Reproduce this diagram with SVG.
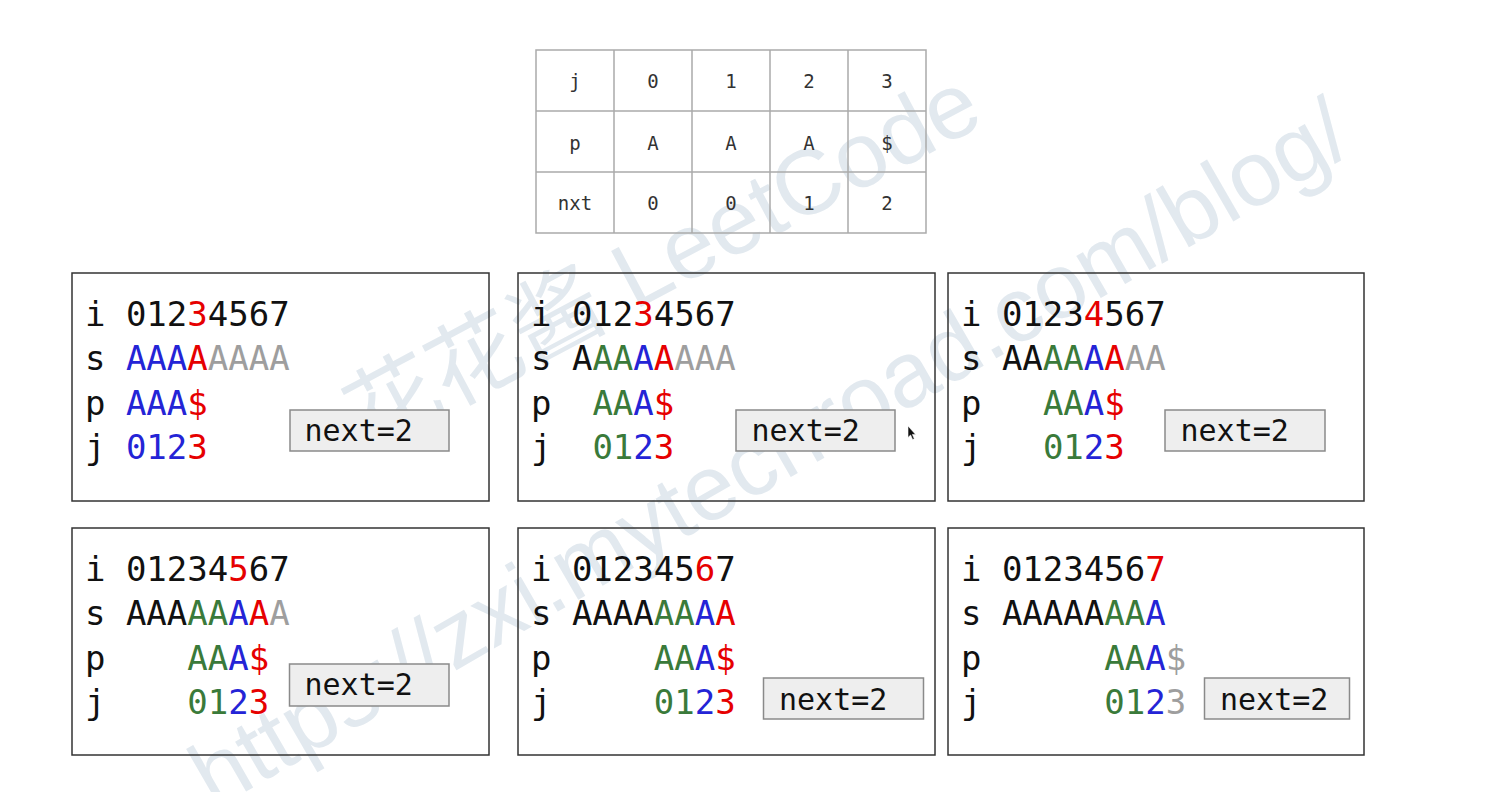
<svg xmlns="http://www.w3.org/2000/svg" width="1494" height="792" viewBox="0 0 1494 792">
<style>
.wm{font-family:"Liberation Sans","Noto Sans CJK SC",sans-serif;font-size:92px;fill:#e2e9ef}
.panel{fill:none;stroke:#333;stroke-width:1.5}
.cell{fill:none;stroke:#aaa;stroke-width:1.5}
.tt{font-family:"DejaVu Sans Mono","Liberation Mono",monospace;font-size:19px;fill:#333;text-anchor:middle}
.m{font-family:"DejaVu Sans Mono","Liberation Mono",monospace;font-size:34px;fill:#111}
.nb{fill:#eeeeee;stroke:#8a8a8a;stroke-width:1.5}
.nt{font-family:"DejaVu Sans Mono","Liberation Mono",monospace;font-size:30px;fill:#111}
.k{fill:#111}.b{fill:#2424d6}.r{fill:#e60000}.g{fill:#3a7a3a}.y{fill:#9e9e9e}
</style>
<rect width="1494" height="792" fill="#fff"/>
<g id="watermark">
<text class="wm" transform="translate(368 452) rotate(-28)">花花酱 LeetCode</text>
<text class="wm" transform="translate(214 810) rotate(-30)">https://zxi.mytechroad.com/blog/</text>
</g>
<g id="table">
<rect class="cell" x="536" y="50" width="390" height="183"/>
<path class="cell" d="M614 50V233M692 50V233M770 50V233M848 50V233M536 111H926M536 172H926"/>
<text class="tt" x="575" y="88">j</text><text class="tt" x="653" y="88">0</text><text class="tt" x="731" y="88">1</text><text class="tt" x="809" y="88">2</text><text class="tt" x="887" y="88">3</text>
<text class="tt" x="575" y="149.5">p</text><text class="tt" x="653" y="149.5">A</text><text class="tt" x="731" y="149.5">A</text><text class="tt" x="809" y="149.5">A</text><text class="tt" x="887" y="149.5">$</text>
<text class="tt" x="575" y="210">nxt</text><text class="tt" x="653" y="210">0</text><text class="tt" x="731" y="210">0</text><text class="tt" x="809" y="210">1</text><text class="tt" x="887" y="210">2</text>
</g>
<g id="panel1">
<rect class="panel" x="72" y="273" width="417" height="228"/>
<text class="m" x="85" y="326">i</text><text class="m" x="85" y="370">s</text><text class="m" x="85" y="415">p</text><text class="m" x="85" y="459">j</text>
<text class="m" x="125.9" y="326">012<tspan class="r">3</tspan>4567</text>
<text class="m" x="125.9" y="370"><tspan class="b">AAA</tspan><tspan class="r">A</tspan><tspan class="y">AAAA</tspan></text>
<text class="m" x="125.9" y="415"><tspan class="b">AAA</tspan><tspan class="r">$</tspan></text>
<text class="m" x="125.9" y="459"><tspan class="b">012</tspan><tspan class="r">3</tspan></text>
<rect class="nb" x="290" y="410" width="159" height="41"/>
<text class="nt" x="304.5" y="441">next=2</text>
</g>
<g id="panel2">
<rect class="panel" x="518" y="273" width="417" height="228"/>
<text class="m" x="531" y="326">i</text><text class="m" x="531" y="370">s</text><text class="m" x="531" y="415">p</text><text class="m" x="531" y="459">j</text>
<text class="m" x="571.9" y="326">012<tspan class="r">3</tspan>4567</text>
<text class="m" x="571.9" y="370">A<tspan class="g">AA</tspan><tspan class="b">A</tspan><tspan class="r">A</tspan><tspan class="y">AAA</tspan></text>
<text class="m" x="592.4" y="415"><tspan class="g">AA</tspan><tspan class="b">A</tspan><tspan class="r">$</tspan></text>
<text class="m" x="592.4" y="459"><tspan class="g">01</tspan><tspan class="b">2</tspan><tspan class="r">3</tspan></text>
<rect class="nb" x="736" y="410" width="159" height="41"/>
<text class="nt" x="751.5" y="441">next=2</text>
<path d="M908 426V437.5L910.6 435L912.6 439.6L914.3 438.8L912.4 434.4H915.6Z" fill="#111" stroke="#fff" stroke-width="0.6"/>
</g>
<g id="panel3">
<rect class="panel" x="948" y="273" width="416" height="228"/>
<text class="m" x="961" y="326">i</text><text class="m" x="961" y="370">s</text><text class="m" x="961" y="415">p</text><text class="m" x="961" y="459">j</text>
<text class="m" x="1001.9" y="326">0123<tspan class="r">4</tspan>567</text>
<text class="m" x="1001.9" y="370">AA<tspan class="g">AA</tspan><tspan class="b">A</tspan><tspan class="r">A</tspan><tspan class="y">AA</tspan></text>
<text class="m" x="1042.9" y="415"><tspan class="g">AA</tspan><tspan class="b">A</tspan><tspan class="r">$</tspan></text>
<text class="m" x="1042.9" y="459"><tspan class="g">01</tspan><tspan class="b">2</tspan><tspan class="r">3</tspan></text>
<rect class="nb" x="1165" y="410" width="160" height="41"/>
<text class="nt" x="1180.5" y="441">next=2</text>
</g>
<g id="panel4">
<rect class="panel" x="72" y="528" width="417" height="227"/>
<text class="m" x="85" y="581">i</text><text class="m" x="85" y="625">s</text><text class="m" x="85" y="670">p</text><text class="m" x="85" y="714">j</text>
<text class="m" x="125.9" y="581">01234<tspan class="r">5</tspan>67</text>
<text class="m" x="125.9" y="625">AAA<tspan class="g">AA</tspan><tspan class="b">A</tspan><tspan class="r">A</tspan><tspan class="y">A</tspan></text>
<text class="m" x="187.3" y="670"><tspan class="g">AA</tspan><tspan class="b">A</tspan><tspan class="r">$</tspan></text>
<text class="m" x="187.3" y="714"><tspan class="g">01</tspan><tspan class="b">2</tspan><tspan class="r">3</tspan></text>
<rect class="nb" x="289.5" y="664" width="159.5" height="42"/>
<text class="nt" x="304.5" y="695">next=2</text>
</g>
<g id="panel5">
<rect class="panel" x="518" y="528" width="417" height="227"/>
<text class="m" x="531" y="581">i</text><text class="m" x="531" y="625">s</text><text class="m" x="531" y="670">p</text><text class="m" x="531" y="714">j</text>
<text class="m" x="571.9" y="581">012345<tspan class="r">6</tspan>7</text>
<text class="m" x="571.9" y="625">AAAA<tspan class="g">AA</tspan><tspan class="b">A</tspan><tspan class="r">A</tspan></text>
<text class="m" x="653.8" y="670"><tspan class="g">AA</tspan><tspan class="b">A</tspan><tspan class="r">$</tspan></text>
<text class="m" x="653.8" y="714"><tspan class="g">01</tspan><tspan class="b">2</tspan><tspan class="r">3</tspan></text>
<rect class="nb" x="763.5" y="678" width="160" height="41"/>
<text class="nt" x="779" y="709.5">next=2</text>
</g>
<g id="panel6">
<rect class="panel" x="948" y="528" width="416" height="227"/>
<text class="m" x="961" y="581">i</text><text class="m" x="961" y="625">s</text><text class="m" x="961" y="670">p</text><text class="m" x="961" y="714">j</text>
<text class="m" x="1001.9" y="581">0123456<tspan class="r">7</tspan></text>
<text class="m" x="1001.9" y="625">AAAAA<tspan class="g">AA</tspan><tspan class="b">A</tspan></text>
<text class="m" x="1104.3" y="670"><tspan class="g">AA</tspan><tspan class="b">A</tspan><tspan class="y">$</tspan></text>
<text class="m" x="1104.3" y="714"><tspan class="g">01</tspan><tspan class="b">2</tspan><tspan class="y">3</tspan></text>
<rect class="nb" x="1204.5" y="678" width="145" height="41"/>
<text class="nt" x="1220" y="709.5">next=2</text>
</g>
<g id="connectors"/>
</svg>
